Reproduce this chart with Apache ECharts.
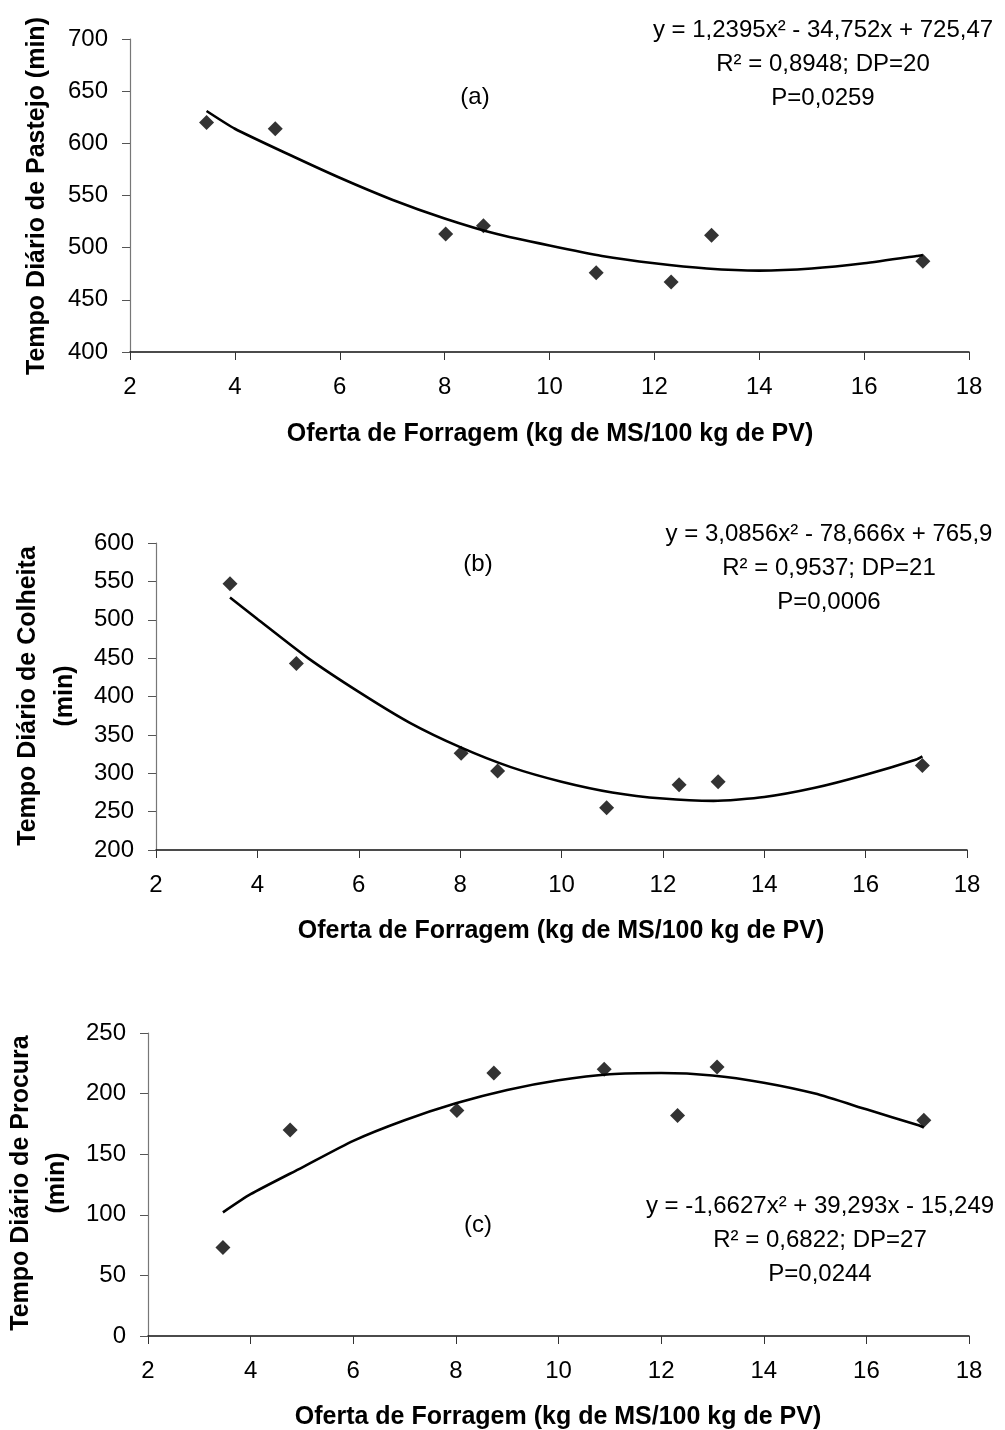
<!DOCTYPE html>
<html>
<head>
<meta charset="utf-8">
<script src="https://cdn.jsdelivr.net/npm/echarts@6/dist/echarts.min.js"></script>
<style>
  html, body { margin: 0; padding: 0; background: #ffffff; }
  #chart { width: 1005px; height: 1430px; }
</style>
</head>
<body>
<div id="chart"></div>
<script>
// pontos observados (oferta de forragem, kg de MS/100 kg de PV)
var oferta = [3.46, 4.77, 8.02, 8.74, 10.89, 12.32, 13.09, 17.12];
var pastejo = [620, 614, 513, 521, 476, 467, 512, 487];
var colheita = [547, 443, 326, 303, 255, 285, 289, 310];
var procura = [73, 170, 186, 217, 220, 182, 222, 178];

// linhas de tendência
var curvaX = [3.46, 4, 5, 6, 7, 8, 9, 10, 11, 12, 13, 14, 15, 16, 17, 17.12];
var curvaPastejo = [631, 614, 590, 567, 546, 528, 513, 502, 492, 485, 480, 478, 480, 485, 492, 493];
var curvaColheita = [529, 501, 450, 406, 366, 334, 308, 289, 275, 267, 264, 269, 281, 298, 318, 322];
var curvaProcura = [102, 117, 139, 161, 178, 192, 203, 211, 216, 217, 215, 209, 200, 187, 174, 172];

var xTicks = [2, 4, 6, 8, 10, 12, 14, 16, 18];
var yRanges = [[400, 700], [200, 600], [0, 250]];

var FONT = "'Liberation Sans', Arial, sans-serif";

function pares(xs, ys) {
  var out = [];
  for (var i = 0; i < xs.length; i++) out.push([xs[i], ys[i]]);
  return out;
}

var grids = [
  { left: 130, top: 39, width: 839, height: 313 },
  { left: 156, top: 543, width: 811, height: 307 },
  { left: 148, top: 1033, width: 821, height: 303 }
];

var xAxes = [], yAxes = [], series = [];
var pontos = [pastejo, colheita, procura];
var curvas = [curvaPastejo, curvaColheita, curvaProcura];

for (var k = 0; k < 3; k++) {
  xAxes.push({
    type: 'value', gridIndex: k,
    min: xTicks[0], max: xTicks[xTicks.length - 1], interval: 2,
    axisLine: { lineStyle: { color: '#111', width: 1.5 } },
    axisTick: { show: true, length: 8, lineStyle: { color: '#333', width: 1 } },
    axisLabel: { color: '#000', fontSize: 24, fontFamily: FONT, margin: 23 },
    splitLine: { show: false }
  });
  yAxes.push({
    type: 'value', gridIndex: k,
    min: yRanges[k][0], max: yRanges[k][1], interval: 50,
    axisLine: { show: true, lineStyle: { color: '#777', width: 1.2 } },
    axisTick: { show: true, length: 8, lineStyle: { color: '#555', width: 1 } },
    axisLabel: { color: '#000', fontSize: 24, fontFamily: FONT, margin: 22 },
    splitLine: { show: false }
  });
  series.push({
    type: 'line', xAxisIndex: k, yAxisIndex: k,
    data: pares(curvaX, curvas[k]),
    showSymbol: false, smooth: 0.2,
    lineStyle: { color: '#000', width: 2.6 },
    animation: false, z: 2
  });
  series.push({
    type: 'scatter', xAxisIndex: k, yAxisIndex: k,
    data: pares(oferta, pontos[k]),
    symbol: 'diamond', symbolSize: 15,
    itemStyle: { color: '#000' },
    animation: false, z: 3
  });
}

function texto(x, y, t, size, bold, rot, lh) {
  return {
    type: 'text', x: x, y: y, rotation: rot || 0, silent: true,
    style: {
      text: t, fill: '#000', fontSize: size, fontFamily: FONT,
      fontWeight: bold ? 'bold' : 'normal',
      align: 'center', verticalAlign: 'middle',
      lineHeight: lh || Math.round(size * 1.2)
    }
  };
}

var xTitulo = 'Oferta de Forragem (kg de MS/100 kg de PV)';
var graficos = [
  texto(37, 196, 'Tempo Diário de Pastejo (min)', 25, true, Math.PI / 2),
  texto(47, 696, 'Tempo Diário de Colheita\n(min)', 25, true, Math.PI / 2, 37),
  texto(39, 1183, 'Tempo Diário de Procura\n(min)', 25, true, Math.PI / 2, 36),
  texto(550, 434, xTitulo, 25, true),
  texto(561, 931, xTitulo, 25, true),
  texto(558, 1417, xTitulo, 25, true),
  texto(475, 97, '(a)', 24),
  texto(478, 564, '(b)', 24),
  texto(478, 1225, '(c)', 24),
  texto(823, 64, 'y = 1,2395x² - 34,752x + 725,47\nR² = 0,8948; DP=20\nP=0,0259', 24, false, 0, 34),
  texto(829, 568, 'y = 3,0856x² - 78,666x + 765,9\nR² = 0,9537; DP=21\nP=0,0006', 24, false, 0, 34),
  texto(820, 1240, 'y = -1,6627x² + 39,293x - 15,249\nR² = 0,6822; DP=27\nP=0,0244', 24, false, 0, 34)
];

var chart = echarts.init(document.getElementById('chart'), null, { renderer: 'canvas' });
chart.setOption({
  backgroundColor: '#ffffff',
  animation: false,
  grid: grids,
  xAxis: xAxes,
  yAxis: yAxes,
  series: series,
  graphic: graficos
});
</script>
</body>
</html>
